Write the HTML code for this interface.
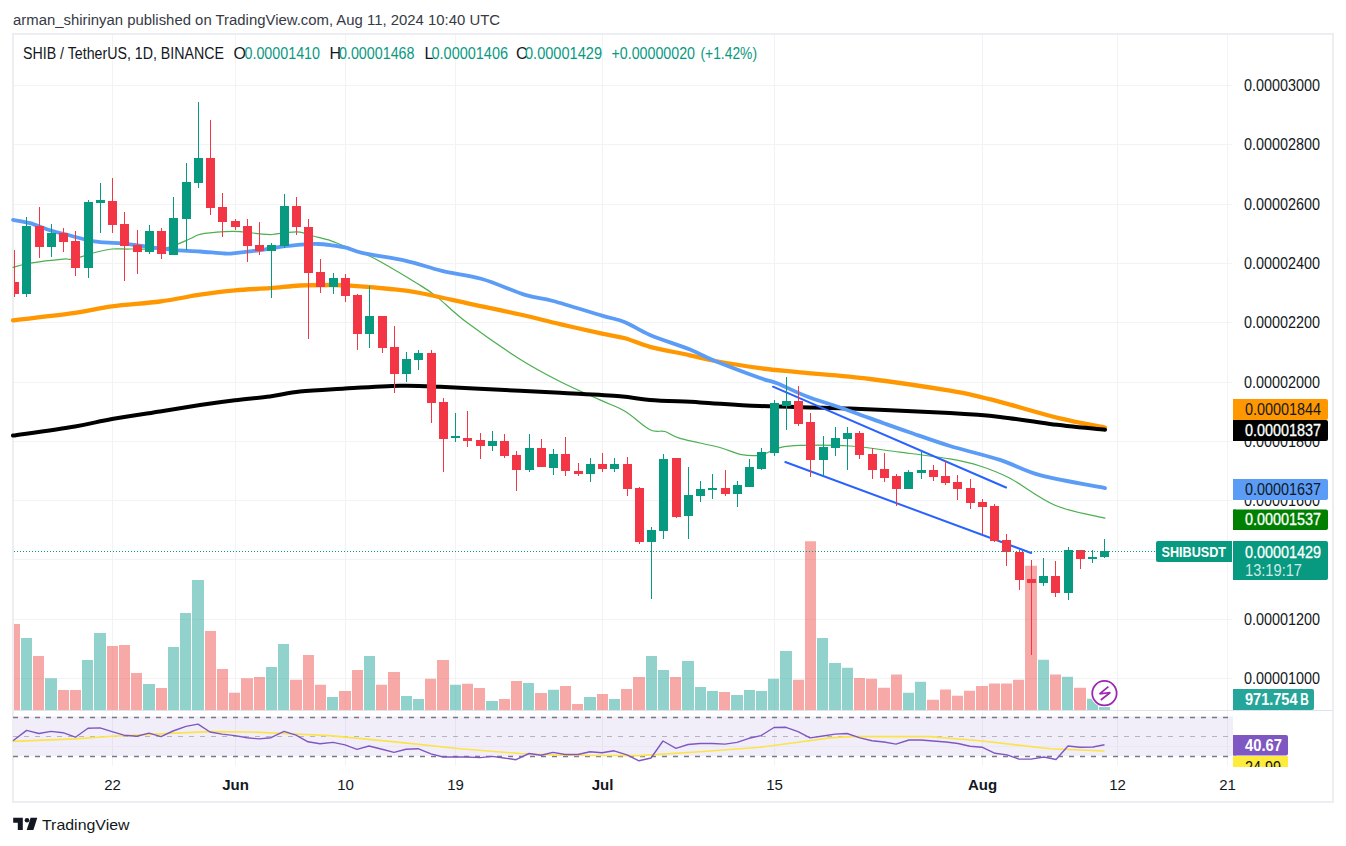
<!DOCTYPE html>
<html><head><meta charset="utf-8"><title>SHIBUSDT chart</title>
<style>
html,body{margin:0;padding:0;background:#fff;width:1346px;height:846px;overflow:hidden}
svg{display:block;font-family:"Liberation Sans",sans-serif}
</style></head><body>
<svg width="1346" height="846" viewBox="0 0 1346 846">
<text x="13" y="25" font-size="15.4" fill="#363a45" textLength="487" lengthAdjust="spacingAndGlyphs">arman_shirinyan published on TradingView.com, Aug 11, 2024 10:40 UTC</text>
<rect x="13" y="34" width="1320" height="768" fill="#fff" stroke="#edeef2" stroke-width="2"/>
<path d="M14 85.5H1232 M14 144.5H1232 M14 204.5H1232 M14 263.5H1232 M14 322.5H1232 M14 382.5H1232 M14 441.5H1232 M14 500.5H1232 M14 559.5H1232 M14 619.5H1232 M14 678.5H1232 M112.5 35V766 M235.5 35V766 M345.5 35V766 M455.5 35V766 M602.5 35V766 M774.5 35V766 M982.5 35V766 M1117.5 35V766 M1227.5 35V766" stroke="#f2f3f4" stroke-width="1" fill="none"/>
<g fill="none" stroke-linejoin="round" stroke-linecap="round">
<path d="M13.0 267.3 C15.8 266.6 21.7 264.6 30.0 263.2 C38.3 261.8 56.3 259.7 63.0 259.1 C69.7 258.5 67.2 259.7 70.0 259.4 C72.8 259.1 75.8 258.3 80.0 257.2 C84.2 256.1 89.7 253.9 95.0 252.5 C100.3 251.1 106.2 249.6 112.0 249.0 C117.8 248.4 121.2 249.2 130.0 249.0 C138.8 248.8 155.0 249.8 165.0 248.1 C175.0 246.4 184.2 241.1 190.0 238.8 C195.8 236.5 194.2 235.5 200.0 234.3 C205.8 233.1 218.3 232.1 225.0 231.7 C231.7 231.3 234.2 231.3 240.0 231.7 C245.8 232.0 254.7 233.3 260.0 233.8 C265.3 234.3 267.8 234.7 272.0 234.5 C276.2 234.3 280.3 233.1 285.0 232.7 C289.7 232.3 295.3 231.5 300.0 232.1 C304.7 232.7 307.9 234.6 313.0 236.0 C318.1 237.4 325.5 239.0 330.5 240.6 C335.5 242.2 337.1 243.3 343.0 245.6 C348.9 247.9 359.7 251.8 366.0 254.5 C372.3 257.2 372.6 257.2 381.0 262.0 C389.4 266.8 407.1 277.2 416.4 283.0 C425.7 288.8 428.2 290.0 436.6 296.6 C445.0 303.2 453.1 312.2 467.0 322.6 C480.9 333.0 504.5 349.4 520.0 359.2 C535.5 369.0 546.7 374.7 560.0 381.5 C573.3 388.3 589.2 394.9 600.0 399.9 C610.8 404.9 616.7 406.3 625.0 411.3 C633.3 416.3 643.3 426.3 650.0 429.7 C656.7 433.1 660.0 430.1 665.0 431.5 C670.0 432.9 670.8 435.6 680.0 438.3 C689.2 441.0 710.0 444.8 720.0 447.5 C730.0 450.2 733.3 453.0 740.0 454.3 C746.7 455.6 753.3 456.3 760.0 455.2 C766.7 454.1 773.3 449.2 780.0 447.6 C786.7 446.0 788.3 445.7 800.0 445.4 C811.7 445.1 833.3 444.9 850.0 446.0 C866.7 447.1 883.3 450.1 900.0 452.2 C916.7 454.3 936.7 456.6 950.0 458.9 C963.3 461.2 970.0 462.8 980.0 466.0 C990.0 469.2 997.5 471.8 1010.0 478.3 C1022.5 484.9 1039.2 498.6 1055.0 505.3 C1070.8 512.0 1096.7 516.1 1105.0 518.2" stroke="#4caf50" stroke-width="1.2"/>
<path d="M13.0 320.3 C23.3 319.1 58.5 315.1 75.0 312.8 C91.5 310.5 97.8 308.2 112.0 306.3 C126.2 304.4 145.3 303.4 160.0 301.5 C174.7 299.6 187.5 296.6 200.0 294.7 C212.5 292.8 223.3 291.4 235.0 290.3 C246.7 289.2 259.2 289.0 270.0 288.2 C280.8 287.4 290.0 286.0 300.0 285.5 C310.0 285.0 321.7 285.0 330.0 285.0 C338.3 285.0 340.0 284.9 350.0 285.6 C360.0 286.3 378.3 287.8 390.0 289.0 C401.7 290.2 406.7 290.5 420.0 293.0 C433.3 295.5 453.3 300.2 470.0 303.8 C486.7 307.4 505.0 311.1 520.0 314.5 C535.0 317.9 546.3 320.9 560.0 324.1 C573.7 327.3 591.2 331.2 602.0 333.6 C612.8 336.0 617.0 336.1 625.0 338.3 C633.0 340.5 639.2 344.0 650.0 346.8 C660.8 349.6 679.2 352.9 690.0 355.3 C700.8 357.7 703.3 358.9 715.0 361.0 C726.7 363.1 745.8 366.3 760.0 368.2 C774.2 370.1 781.7 370.5 800.0 372.3 C818.3 374.1 845.0 375.9 870.0 379.0 C895.0 382.1 931.7 387.7 950.0 390.7 C968.3 393.7 970.0 394.6 980.0 396.9 C990.0 399.2 996.7 401.0 1010.0 404.6 C1023.3 408.2 1044.2 414.6 1060.0 418.4 C1075.8 422.2 1097.5 426.1 1105.0 427.6" stroke="#ff9800" stroke-width="4.3"/>
<path d="M13.0 435.6 C23.3 434.1 58.5 429.3 75.0 426.5 C91.5 423.7 97.8 421.5 112.0 419.0 C126.2 416.5 145.3 413.7 160.0 411.4 C174.7 409.1 187.5 406.9 200.0 405.0 C212.5 403.1 223.3 401.6 235.0 400.2 C246.7 398.8 259.2 397.8 270.0 396.4 C280.8 395.0 287.5 392.9 300.0 391.6 C312.5 390.3 328.3 389.6 345.0 388.6 C361.7 387.6 384.2 386.1 400.0 385.8 C415.8 385.5 423.3 386.0 440.0 386.7 C456.7 387.4 480.0 388.8 500.0 389.8 C520.0 390.8 540.0 391.7 560.0 392.8 C580.0 393.9 605.0 395.0 620.0 396.2 C635.0 397.4 636.7 398.9 650.0 399.9 C663.3 400.9 681.7 401.4 700.0 402.4 C718.3 403.4 735.0 405.0 760.0 406.0 C785.0 407.0 818.3 407.3 850.0 408.5 C881.7 409.7 925.0 411.7 950.0 413.1 C975.0 414.5 983.3 415.1 1000.0 416.9 C1016.7 418.7 1032.5 421.8 1050.0 423.9 C1067.5 426.0 1095.8 428.8 1105.0 429.8" stroke="#000000" stroke-width="4"/>
<path d="M13.0 219.9 C15.8 220.4 23.8 221.5 30.0 223.2 C36.2 224.9 43.3 228.2 50.0 230.3 C56.7 232.4 63.3 233.8 70.0 235.5 C76.7 237.2 85.0 239.6 90.0 240.7 C95.0 241.8 95.0 241.7 100.0 242.1 C105.0 242.5 114.2 242.7 120.0 243.2 C125.8 243.7 129.2 244.2 135.0 245.0 C140.8 245.8 148.3 247.0 155.0 247.8 C161.7 248.7 167.5 249.5 175.0 250.1 C182.5 250.7 191.7 250.9 200.0 251.5 C208.3 252.1 219.2 253.2 225.0 253.5 C230.8 253.8 229.2 253.8 235.0 253.2 C240.8 252.6 252.5 251.2 260.0 250.1 C267.5 249.0 272.5 247.8 280.0 246.8 C287.5 245.9 298.7 244.9 305.0 244.4 C311.3 243.9 313.7 243.9 318.0 244.0 C322.3 244.1 326.3 244.6 331.0 245.2 C335.7 245.8 340.7 246.4 346.0 247.7 C351.3 249.0 353.0 251.0 363.0 253.2 C373.0 255.4 392.8 257.9 406.0 260.8 C419.2 263.8 429.3 267.9 442.0 270.9 C454.7 273.9 468.2 275.0 482.0 279.0 C495.8 283.0 513.2 291.2 525.0 294.9 C536.8 298.6 540.2 297.6 553.0 301.0 C565.8 304.4 590.0 312.1 602.0 315.6 C614.0 319.1 617.0 319.0 625.0 322.2 C633.0 325.4 639.2 330.3 650.0 334.9 C660.8 339.5 679.2 345.2 690.0 349.6 C700.8 354.0 703.3 356.3 715.0 361.0 C726.7 365.7 749.7 374.3 760.0 378.0 C770.3 381.7 769.2 380.2 777.0 383.3 C784.8 386.4 796.5 392.5 807.0 396.5 C817.5 400.5 827.0 403.0 840.0 407.5 C853.0 412.0 873.3 419.5 885.0 423.7 C896.7 427.9 899.2 428.8 910.0 432.5 C920.8 436.2 935.0 441.4 950.0 446.0 C965.0 450.6 985.0 455.0 1000.0 459.9 C1015.0 464.8 1022.5 470.5 1040.0 475.2 C1057.5 479.9 1094.2 486.0 1105.0 488.1" stroke="#5b9cf6" stroke-width="3.8"/>
</g>
<path d="M773 386.7L1006 487.5M785.3 462L1031.2 553" stroke="#2962ff" stroke-width="2" stroke-linecap="round" fill="none"/>
<path d="M21 638.0H32V710H21Z M45 678.2H57V710H45Z M82 660.1H93V710H82Z M94 633.0H106V710H94Z M143 684.0H155V710H143Z M168 647.0H179V710H168Z M180 613.1H191V710H180Z M192 580.0H204V710H192Z M266 666.9H277V710H266Z M278 643.9H289V710H278Z M327 696.9H338V710H327Z M364 655.9H375V710H364Z M401 695.9H412V710H401Z M413 699.0H424V710H413Z M450 684.8H461V710H450Z M486 701.1H498V710H486Z M523 683.0H534V710H523Z M548 689.8H559V710H548Z M584 696.9H596V710H584Z M609 699.0H620V710H609Z M646 655.9H657V710H646Z M658 670.1H669V710H658Z M682 660.9H694V710H682Z M695 686.9H706V710H695Z M707 690.9H718V710H707Z M731 695.0H743V710H731Z M744 690.0H755V710H744Z M756 690.9H767V710H756Z M768 678.8H779V710H768Z M780 650.9H792V710H780Z M817 637.9H828V710H817Z M829 662.9H841V710H829Z M842 667.7H853V710H842Z M903 692.8H914V710H903Z M915 681.8H926V710H915Z M1038 659.7H1049V710H1038Z M1062 676.7H1073V710H1062Z M1087 698.8H1098V710H1087Z M1099 706.9H1110V710H1099Z" fill="rgba(38,166,154,0.5)"/>
<path d="M14 624.1H20V710H14Z M33 655.9H44V710H33Z M58 690.0H69V710H58Z M70 690.0H81V710H70Z M107 645.9H118V710H107Z M119 644.9H130V710H119Z M131 673.0H142V710H131Z M156 688.0H167V710H156Z M205 631.0H216V710H205Z M217 669.0H228V710H217Z M229 692.7H240V710H229Z M241 678.2H253V710H241Z M254 677.1H265V710H254Z M290 679.8H302V710H290Z M303 654.9H314V710H303Z M315 684.8H326V710H315Z M339 690.9H351V710H339Z M352 669.9H363V710H352Z M376 684.8H387V710H376Z M388 671.9H400V710H388Z M425 678.8H436V710H425Z M437 659.9H449V710H437Z M462 683.8H473V710H462Z M474 688.0H485V710H474Z M499 699.0H510V710H499Z M511 680.9H522V710H511Z M535 693.0H547V710H535Z M560 685.9H571V710H560Z M572 704.0H583V710H572Z M597 694.0H608V710H597Z M621 689.0H632V710H621Z M633 676.9H645V710H633Z M670 676.9H681V710H670Z M719 691.9H730V710H719Z M793 679.8H804V710H793Z M805 541.3H816V710H805Z M854 677.9H865V710H854Z M866 678.8H877V710H866Z M878 687.8H890V710H878Z M891 674.6H902V710H891Z M927 699.7H939V710H927Z M940 689.6H951V710H940Z M952 695.8H963V710H952Z M964 690.8H975V710H964Z M976 685.9H988V710H976Z M989 683.6H1000V710H989Z M1001 683.6H1012V710H1001Z M1013 679.7H1024V710H1013Z M1025 565.7H1037V710H1025Z M1050 674.6H1061V710H1050Z M1074 687.8H1086V710H1074Z" fill="rgba(239,83,80,0.5)"/>
<path d="M22 226H31V294H22Z M26 217H27V297H26Z M47 233H56V247H47Z M51 224H52V257H51Z M84 202H93V268H84Z M88 200H89V278H88Z M96 200H105V203H96Z M100 183H101V233H100Z M145 231H154V252H145Z M149 225H150V254H149Z M169 218H178V255H169Z M173 197H174V255H173Z M182 182H191V219H182Z M186 163H187V250H186Z M194 158H203V183H194Z M198 102H199V188H198Z M267 245H276V251H267Z M271 243H272V298H271Z M280 206H289V246H280Z M284 194H285V248H284Z M329 278H338V287H329Z M333 273H334V294H333Z M365 316H374V334H365Z M369 286H370V348H369Z M402 359H411V374H402Z M406 352H407V382H406Z M414 353H423V360H414Z M418 350H419V370H418Z M451 436H460V438H451Z M455 413H456V442H455Z M488 441H497V446H488Z M492 431H493V451H492Z M525 448H534V470H525Z M529 434H530V472H529Z M549 454H558V468H549Z M553 449H554V475H553Z M586 464H595V474H586Z M590 458H591V482H590Z M610 464H619V469H610Z M614 458H615V472H614Z M647 530H656V542H647Z M651 527H652V599H651Z M659 459H668V531H659Z M663 454H664V539H663Z M684 495H693V516H684Z M688 467H689V539H688Z M696 489H705V496H696Z M700 481H701V502H700Z M708 488H717V490H708Z M712 474H713V499H712Z M733 485H742V494H733Z M737 481H738V507H737Z M745 467H754V487H745Z M749 459H750V487H749Z M757 452H766V469H757Z M761 448H762V470H761Z M770 403H779V453H770Z M774 400H775V456H774Z M782 401H791V406H782Z M786 377H787V430H786Z M819 447H828V460H819Z M823 436H824V476H823Z M831 438H840V448H831Z M835 427H836V456H835Z M843 433H852V439H843Z M847 427H848V470H847Z M904 472H913V489H904Z M908 470H909V489H908Z M917 470H926V473H917Z M921 452H922V479H921Z M1039 576H1048V583H1039Z M1043 558H1044V586H1043Z M1064 550H1073V593H1064Z M1068 547H1069V600H1068Z M1088 557H1097V559H1088Z M1092 550H1093V563H1092Z M1100 551H1109V557H1100Z M1104 539H1105V558H1104Z" fill="#089981" shape-rendering="crispEdges"/>
<path d="M14 282H19V294H14Z M14 250H15V297H14Z M35 226H44V247H35Z M39 207H40V258H39Z M59 233H68V242H59Z M63 228H64V252H63Z M71 241H80V268H71Z M75 231H76V276H75Z M108 201H117V225H108Z M112 178H113V233H112Z M120 224H129V246H120Z M124 212H125V281H124Z M133 245H142V252H133Z M137 230H138V274H137Z M157 231H166V254H157Z M161 228H162V259H161Z M206 158H215V208H206Z M210 120H211V215H210Z M218 207H227V222H218Z M222 193H223V237H222Z M231 221H240V227H231Z M235 219H236V230H235Z M243 226H252V246H243Z M247 219H248V262H247Z M255 245H264V251H255Z M259 222H260V255H259Z M292 206H301V227H292Z M296 197H297V235H296Z M304 227H313V273H304Z M308 219H309V339H308Z M316 272H325V287H316Z M320 259H321V293H320Z M341 278H350V296H341Z M345 274H346V302H345Z M353 295H362V334H353Z M357 294H358V350H357Z M378 316H387V348H378Z M382 316H383V353H382Z M390 347H399V374H390Z M394 326H395V393H394Z M427 353H436V403H427Z M431 350H432V423H431Z M439 402H448V439H439Z M443 398H444V472H443Z M463 438H472V441H463Z M467 411H468V447H467Z M476 440H485V446H476Z M480 433H481V459H480Z M500 441H509V456H500Z M504 434H505V458H504Z M512 455H521V470H512Z M516 451H517V491H516Z M537 448H546V467H537Z M541 439H542V467H541Z M561 454H570V471H561Z M565 437H566V476H565Z M574 471H583V474H574Z M578 463H579V476H578Z M598 464H607V469H598Z M602 453H603V472H602Z M623 464H632V489H623Z M627 457H628V496H627Z M635 488H644V542H635Z M639 487H640V544H639Z M672 458H681V517H672Z M676 458H677V518H676Z M721 488H730V494H721Z M725 470H726V496H725Z M794 401H803V424H794Z M798 386H799V426H798Z M806 422H815V460H806Z M810 413H811V477H810Z M855 433H864V455H855Z M859 431H860V459H859Z M868 454H877V470H868Z M872 448H873V479H872Z M880 469H889V478H880Z M884 453H885V482H884Z M892 476H901V489H892Z M896 474H897V506H896Z M929 470H938V477H929Z M933 465H934V481H933Z M941 476H950V483H941Z M945 461H946V485H945Z M953 482H962V489H953Z M957 475H958V500H957Z M966 488H975V503H966Z M970 479H971V509H970Z M978 502H987V507H978Z M982 499H983V534H982Z M990 506H999V541H990Z M994 504H995V542H994Z M1002 540H1011V552H1002Z M1006 534H1007V566H1006Z M1015 552H1024V580H1015Z M1019 550H1020V590H1019Z M1027 579H1036V583H1027Z M1031 560H1032V655H1031Z M1051 576H1060V593H1051Z M1055 561H1056V597H1055Z M1076 550H1085V559H1076Z M1080 550H1081V569H1080Z" fill="#f23645" shape-rendering="crispEdges"/>
<path d="M14 551.5H1156" stroke="#089981" stroke-width="1" stroke-dasharray="1 2" fill="none"/>
<path d="M14 710.5H1332" stroke="#e0e3eb" stroke-width="1"/>
<rect x="14" y="716.5" width="1219" height="39.5" fill="rgba(126,87,194,0.1)"/>
<path d="M14 746.5H1232" stroke="#ebe7f2" stroke-width="1"/>
<path d="M13 717.5H1232M13 756.5H1232" stroke="#787b86" stroke-width="1.3" stroke-dasharray="5 6"/>
<path d="M13 736.5H1232" stroke="rgba(120,123,134,0.5)" stroke-width="1.1" stroke-dasharray="5 6"/>
<polyline points="13.0,741.4 75.0,738.9 112.0,736.2 175.0,733.1 210.0,731.6 250.0,732.0 290.0,733.7 330.0,735.6 400.0,742.4 460.0,748.7 520.0,753.5 560.0,755.3 640.0,755.6 700.0,751.8 760.0,747.2 800.0,742.0 830.0,737.9 850.0,736.6 930.0,736.6 980.0,740.8 1050.0,748.7 1104.5,751.0" stroke="#fbe34a" stroke-width="1.6" fill="none" stroke-linejoin="round"/>
<polyline points="13.0,740.8 26.6,730.4 38.9,733.5 51.0,731.4 63.0,732.7 75.4,737.2 88.0,728.3 100.0,727.9 112.0,731.6 124.0,735.2 137.0,736.2 149.0,733.1 161.0,736.6 173.0,731.0 186.0,726.4 198.0,724.1 210.0,732.0 222.0,734.1 235.0,735.6 247.0,737.7 259.0,738.9 271.0,737.7 284.0,731.4 296.0,735.2 308.0,741.8 320.0,743.7 333.0,742.4 345.0,744.9 357.0,749.3 369.0,746.0 382.0,749.3 394.0,752.4 406.0,749.3 418.0,748.7 431.0,753.9 443.0,757.0 455.0,757.0 467.0,757.0 480.0,757.6 492.0,756.4 504.0,758.0 516.0,759.7 529.0,753.5 541.0,755.3 553.0,752.4 565.0,754.5 578.0,754.5 590.0,751.8 602.0,752.8 614.0,750.8 627.0,754.9 639.0,760.8 651.0,758.0 663.0,741.0 676.0,748.3 688.0,744.5 700.0,743.5 712.0,743.5 725.0,744.1 737.0,742.4 749.0,738.3 761.0,735.6 774.0,727.5 786.0,727.3 798.0,731.6 810.0,737.9 823.0,736.0 835.0,734.1 847.0,733.5 860.0,737.9 872.0,740.8 884.0,742.0 896.0,744.1 909.0,740.0 921.0,740.0 933.0,741.0 946.0,742.0 958.0,743.5 970.0,746.2 982.0,747.2 995.0,753.3 1007.0,754.9 1019.0,759.1 1031.0,759.1 1044.0,757.0 1056.0,759.5 1068.0,746.0 1080.0,747.2 1093.0,747.0 1104.5,744.8" stroke="#7e57c2" stroke-width="1.4" fill="none" stroke-linejoin="round"/>
<circle cx="1104.45" cy="693.15" r="14" fill="#fff"/>
<circle cx="1104.45" cy="693.15" r="12.2" fill="#fff" stroke="#9c27b0" stroke-width="1.8"/>
<path d="M1108.4 686.6L1099.6 693.9L1110.3 692.5L1100.8 700" fill="none" stroke="#9c27b0" stroke-width="1.7" stroke-linejoin="miter" stroke-miterlimit="3"/>
<text x="1244" y="90.8" font-size="16" fill="#131722" textLength="76" lengthAdjust="spacingAndGlyphs">0.00003000</text>
<text x="1244" y="149.8" font-size="16" fill="#131722" textLength="76" lengthAdjust="spacingAndGlyphs">0.00002800</text>
<text x="1244" y="209.8" font-size="16" fill="#131722" textLength="76" lengthAdjust="spacingAndGlyphs">0.00002600</text>
<text x="1244" y="268.8" font-size="16" fill="#131722" textLength="76" lengthAdjust="spacingAndGlyphs">0.00002400</text>
<text x="1244" y="327.8" font-size="16" fill="#131722" textLength="76" lengthAdjust="spacingAndGlyphs">0.00002200</text>
<text x="1244" y="387.8" font-size="16" fill="#131722" textLength="76" lengthAdjust="spacingAndGlyphs">0.00002000</text>
<text x="1244" y="446.8" font-size="16" fill="#131722" textLength="76" lengthAdjust="spacingAndGlyphs">0.00001800</text>
<text x="1244" y="505.8" font-size="16" fill="#131722" textLength="76" lengthAdjust="spacingAndGlyphs">0.00001600</text>
<text x="1244" y="564.8" font-size="16" fill="#131722" textLength="76" lengthAdjust="spacingAndGlyphs">0.00001400</text>
<text x="1244" y="624.8" font-size="16" fill="#131722" textLength="76" lengthAdjust="spacingAndGlyphs">0.00001200</text>
<text x="1244" y="683.8" font-size="16" fill="#131722" textLength="76" lengthAdjust="spacingAndGlyphs">0.00001000</text>
<rect x="1233" y="399" width="95" height="21" rx="2" fill="#ff9800"/>
<rect x="1233" y="399" width="3" height="21" fill="#ff9800"/>
<text x="1245" y="415" font-size="16" fill="#131722" textLength="76" lengthAdjust="spacingAndGlyphs">0.00001844</text>
<rect x="1233" y="420" width="95" height="21" rx="2" fill="#000000"/>
<rect x="1233" y="420" width="3" height="21" fill="#000000"/>
<text x="1245" y="436" font-size="16" fill="#fff" textLength="76" lengthAdjust="spacingAndGlyphs" stroke="#fff" stroke-width="0.3">0.00001837</text>
<rect x="1233" y="479" width="95" height="21" rx="2" fill="#5b9cf6"/>
<rect x="1233" y="479" width="3" height="21" fill="#5b9cf6"/>
<text x="1245" y="495" font-size="16" fill="#131722" textLength="76" lengthAdjust="spacingAndGlyphs">0.00001637</text>
<rect x="1233" y="509.5" width="95" height="20.5" rx="2" fill="#008000"/>
<rect x="1233" y="509.5" width="3" height="20.5" fill="#008000"/>
<text x="1245" y="524.8" font-size="16" fill="#fff" textLength="76" lengthAdjust="spacingAndGlyphs" stroke="#fff" stroke-width="0.3">0.00001537</text>
<rect x="1233" y="541" width="95" height="39" rx="2" fill="#089981"/>
<rect x="1233" y="541" width="3" height="39" fill="#089981"/>
<text x="1245" y="558" font-size="16" fill="#fff" textLength="76" lengthAdjust="spacingAndGlyphs" stroke="#fff" stroke-width="0.3">0.00001429</text>
<text x="1245" y="576" font-size="16" fill="rgba(255,255,255,0.82)" textLength="57" lengthAdjust="spacingAndGlyphs">13:19:17</text>
<rect x="1156" y="541" width="76" height="21" rx="2" fill="#089981"/>
<rect x="1226" y="541" width="6" height="21" fill="#089981"/>
<text x="1161.5" y="557" font-size="15" fill="#fff" textLength="64.5" lengthAdjust="spacingAndGlyphs" font-weight="bold">SHIBUSDT</text>
<rect x="1233" y="689" width="81" height="21" rx="2" fill="#26a69a"/>
<rect x="1233" y="689" width="3" height="21" fill="#26a69a"/>
<text x="1245" y="705" font-size="16" fill="#fff" textLength="52.5" lengthAdjust="spacingAndGlyphs" font-weight="bold">971.754</text>
<text x="1300.3" y="705" font-size="16" fill="#fff" textLength="8.5" lengthAdjust="spacingAndGlyphs" font-weight="bold">B</text>
<rect x="1233" y="735" width="55" height="20.5" rx="2" fill="#7e57c2"/>
<rect x="1233" y="735" width="3" height="20.5" fill="#7e57c2"/>
<text x="1245" y="751" font-size="16" fill="#fff" textLength="37" lengthAdjust="spacingAndGlyphs" font-weight="bold">40.67</text>
<svg x="1233" y="756" width="55" height="11" overflow="hidden">
<rect x="0" y="0" width="55" height="20" fill="#ffeb3b"/>
<text x="12" y="16.5" font-size="16" fill="#131722" textLength="36" lengthAdjust="spacingAndGlyphs">24.99</text>
</svg>
<text x="112.5" y="790" font-size="15" fill="#131722" text-anchor="middle">22</text>
<text x="235.5" y="790" font-size="15" fill="#131722" font-weight="bold" text-anchor="middle">Jun</text>
<text x="345.5" y="790" font-size="15" fill="#131722" text-anchor="middle">10</text>
<text x="455.5" y="790" font-size="15" fill="#131722" text-anchor="middle">19</text>
<text x="602.5" y="790" font-size="15" fill="#131722" font-weight="bold" text-anchor="middle">Jul</text>
<text x="774.5" y="790" font-size="15" fill="#131722" text-anchor="middle">15</text>
<text x="982.5" y="790" font-size="15" fill="#131722" font-weight="bold" text-anchor="middle">Aug</text>
<text x="1117.5" y="790" font-size="15" fill="#131722" text-anchor="middle">12</text>
<text x="1227.5" y="790" font-size="15" fill="#131722" text-anchor="middle">21</text>
<text x="23" y="59" font-size="16" fill="#131722" textLength="201" lengthAdjust="spacingAndGlyphs">SHIB / TetherUS, 1D, BINANCE</text>
<text x="233.5" y="59" font-size="16" fill="#131722">O</text>
<text x="244.5" y="59" font-size="16" fill="#089981" textLength="75.5" lengthAdjust="spacingAndGlyphs">0.00001410</text>
<text x="329.5" y="59" font-size="16" fill="#131722">H</text>
<text x="339" y="59" font-size="16" fill="#089981" textLength="75.5" lengthAdjust="spacingAndGlyphs">0.00001468</text>
<text x="424.5" y="59" font-size="16" fill="#131722">L</text>
<text x="431.5" y="59" font-size="16" fill="#089981" textLength="76.5" lengthAdjust="spacingAndGlyphs">0.00001406</text>
<text x="516" y="59" font-size="16" fill="#131722">C</text>
<text x="525" y="59" font-size="16" fill="#089981" textLength="77" lengthAdjust="spacingAndGlyphs">0.00001429</text>
<text x="611.5" y="59" font-size="16" fill="#089981" textLength="83.5" lengthAdjust="spacingAndGlyphs">+0.00000020</text>
<text x="700.5" y="59" font-size="16" fill="#089981" textLength="56.5" lengthAdjust="spacingAndGlyphs">(+1.42%)</text>
<g fill="#131722">
<path d="M13.2 817.7H22.8V830H17.8V822.7H13.2Z"/>
<circle cx="27" cy="820.2" r="2.3"/>
<path d="M30.6 817.7H37.3L33.4 830H26.7Z"/>
</g>
<text x="42" y="829.7" font-size="15" fill="#131722" textLength="87.5" lengthAdjust="spacingAndGlyphs">TradingView</text>
</svg>
</body></html>
